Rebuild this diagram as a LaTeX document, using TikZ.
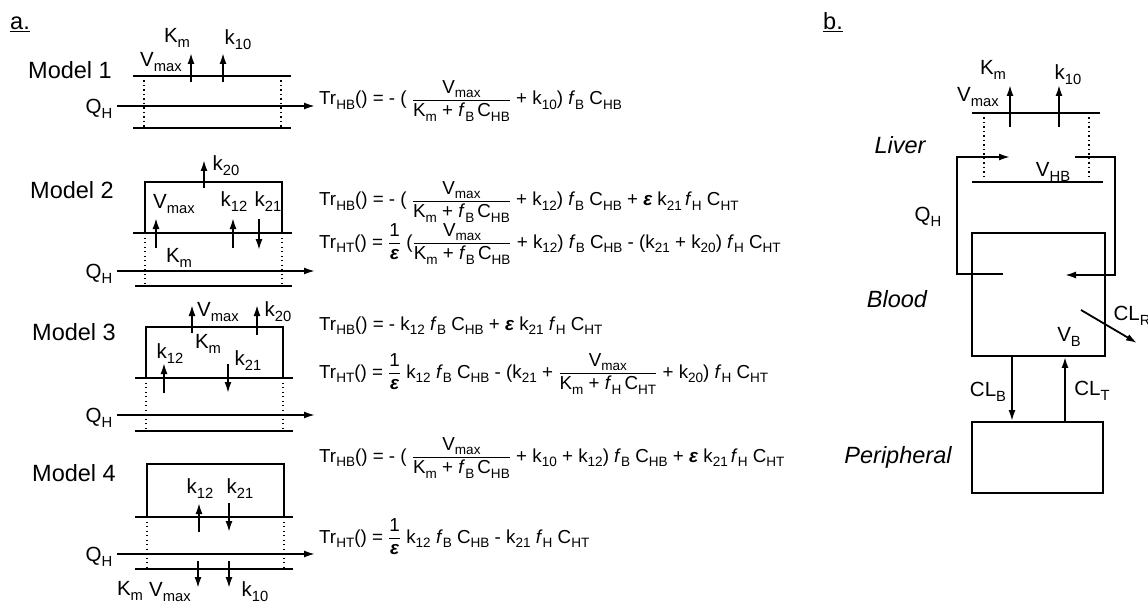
\documentclass[tikz,border=0pt]{standalone}
\usepackage{fontspec}
\setmainfont{Liberation Sans}
\usetikzlibrary{arrows.meta}
\newcommand\sub[1]{\raisebox{-0.45ex}{\fontsize{\the\dimexpr 0.72\fontdimen6\font\relax}{0pt}\selectfont #1}}
\newcommand\fB{\textit{f}\sub{B}}
\newcommand\fH{\textit{f}\sub{H}}
\newcommand\eps{{\bfseries\itshape ε}}
\newcommand\fr[2]{$\displaystyle\frac{\hbox{#1}}{\hbox{#2}}$}
\begin{document}
\begin{tikzpicture}[x=1pt,y=-1pt,
  ln/.style={line width=1.9pt},
  dl/.style={line width=1.7pt, dash pattern=on 1.3pt off 3.2pt},
  ar/.style={line width=1.8pt,-{Latex[length=11pt,width=7pt]}},
  lbl/.style={inner sep=0pt, font=\fontsize{20.5}{22}\selectfont},
  eq/.style={inner sep=0pt, anchor=base west, font=\fontsize{18.8}{22}\selectfont},
  big/.style={inner sep=0pt, font=\fontsize{23.5}{26}\selectfont},
  ital/.style={inner sep=0pt, font=\fontsize{23.5}{26}\selectfont\itshape},
  box/.style={draw, line width=1.9pt, inner sep=0pt},
]
\useasboundingbox (0,0) rectangle (1148,604);
% titles
\node[big,anchor=base west] (ta) at (10,30) {\underline{a.}};
\node[big,anchor=base west] (tb) at (823,30) {\underline{b.}};
% ---------------- Model 1
\node[big] (m1) at (70,70) {Model 1};
\draw[ln] (133,76) -- (291,76);
\draw[ln] (133,128) -- (291,128);
\draw[dl] (144,76) -- (144,128);
\draw[dl] (281,76) -- (281,128);
\node[lbl] (q1) at (99,109) {Q\sub{H}};
\draw[ar] (117,106) -- (315,106);
\draw[ar] (191,82) -- (191,53);
\draw[ar] (223,82) -- (223,53);
\node[lbl] (v1) at (161,62) {V\sub{max}};
\node[lbl] (km1) at (177,38) {K\sub{m}};
\node[lbl] (k101) at (238,40) {k\sub{10}};
\node[eq] (e1) at (319,105) {Tr\sub{HB}() = - ( \fr{V\sub{max}}{K\sub{m} + \fB\,C\sub{HB}} + k\sub{10}) \fB\ C\sub{HB}};
% ---------------- Model 2
\node[big] (m2) at (72,190) {Model 2};
\draw[ln] (145,233) -- (145,182) -- (282,182) -- (282,233);
\draw[ln] (133,233) -- (292,233);
\draw[ln] (135,286) -- (292,286);
\draw[dl] (145,233) -- (145,286);
\draw[dl] (282,233) -- (282,286);
\node[lbl] (q2) at (99,274) {Q\sub{H}};
\draw[ar] (117,271) -- (315,271);
\draw[ar] (204,188) -- (204,160);
\node[lbl] (k202) at (226,166) {k\sub{20}};
\node[lbl] (v2) at (174,204) {V\sub{max}};
\draw[ar] (156,248) -- (156,218);
\node[lbl] (km2) at (179,258) {K\sub{m}};
\node[lbl] (k122) at (234,202) {k\sub{12}};
\draw[ar] (233,248) -- (233,218);
\node[lbl] (k212) at (268,202) {k\sub{21}};
\draw[ar] (259,219) -- (259,250);
\node[eq] (e2a) at (319,206) {Tr\sub{HB}() = - ( \fr{V\sub{max}}{K\sub{m} + \fB\,C\sub{HB}} + k\sub{12}) \fB\ C\sub{HB} + \eps\ k\sub{21}\,\fH\ C\sub{HT}};
\node[eq] (e2b) at (319,248) {Tr\sub{HT}() = \fr{1}{\eps} (\fr{V\sub{max}}{K\sub{m} + \fB\,C\sub{HB}} + k\sub{12}) \fB\ C\sub{HB} - (k\sub{21} + k\sub{20}) \fH\ C\sub{HT}};
% ---------------- Model 3
\node[big] (m3) at (74,332) {Model 3};
\draw[ln] (146,378) -- (146,327) -- (283,327) -- (283,378);
\draw[ln] (135,378) -- (293,378);
\draw[ln] (135,431) -- (293,431);
\draw[dl] (146,378) -- (146,431);
\draw[dl] (283,378) -- (283,431);
\node[lbl] (q3) at (99,418) {Q\sub{H}};
\draw[ar] (117,415) -- (315,415);
\draw[ar] (192,333) -- (192,305);
\node[lbl] (v3) at (218,312) {V\sub{max}};
\node[lbl] (km3) at (208,344) {K\sub{m}};
\draw[ar] (257,335) -- (257,305);
\node[lbl] (k203) at (278,312) {k\sub{20}};
\node[lbl] (k123) at (170,354) {k\sub{12}};
\draw[ar] (164,393) -- (164,363);
\node[lbl] (k213) at (248,361) {k\sub{21}};
\draw[ar] (228,364) -- (228,393);
\node[eq] (e3a) at (319,330) {Tr\sub{HB}() = - k\sub{12} \fB\ C\sub{HB} + \eps\ k\sub{21} \fH\ C\sub{HT}};
\node[eq] (e3b) at (319,378) {Tr\sub{HT}() = \fr{1}{\eps}\ k\sub{12} \fB\ C\sub{HB} - (k\sub{21} + \fr{V\sub{max}}{K\sub{m} + \fH\,C\sub{HT}} + k\sub{20}) \fH\ C\sub{HT}};
% ---------------- Model 4
\node[big] (m4) at (74,473) {Model 4};
\draw[ln] (147,517) -- (147,464) -- (284,464) -- (284,517);
\draw[ln] (135,517) -- (293,517);
\draw[ln] (135,569) -- (293,569);
\draw[dl] (147,517) -- (147,569);
\draw[dl] (284,517) -- (284,569);
\node[lbl] (q4) at (99,557) {Q\sub{H}};
\draw[ar] (117,554) -- (315,554);
\node[lbl] (k124) at (200,489) {k\sub{12}};
\node[lbl] (k214) at (240,489) {k\sub{21}};
\draw[ar] (199,532) -- (199,503);
\draw[ar] (229,503) -- (229,532);
\draw[ar] (198,561) -- (198,588);
\draw[ar] (229,561) -- (229,588);
\node[lbl] (km4) at (130,591) {K\sub{m}};
\node[lbl] (v4) at (170,592) {V\sub{max}};
\node[lbl] (k104) at (255,592) {k\sub{10}};
\node[eq] (e4a) at (319,462) {Tr\sub{HB}() = - ( \fr{V\sub{max}}{K\sub{m} + \fB\,C\sub{HB}} + k\sub{10} + k\sub{12}) \fB\ C\sub{HB} + \eps\ k\sub{21}\,\fH\ C\sub{HT}};
\node[eq] (e4b) at (319,543) {Tr\sub{HT}() = \fr{1}{\eps}\ k\sub{12} \fB\ C\sub{HB} - k\sub{21} \fH\ C\sub{HT}};
% ---------------- Panel b
\draw[ln] (972,113) -- (1100,113);
\draw[dl] (984,113) -- (984,178);
\draw[dl] (1089,113) -- (1089,178);
\draw[ar] (1010,127) -- (1010,85);
\draw[ar] (1059,127) -- (1059,85);
\node[lbl] (kmb) at (993,70) {K\sub{m}};
\node[lbl] (k10b) at (1068,75) {k\sub{10}};
\node[lbl] (vb) at (978,97) {V\sub{max}};
\node[ital] (liver) at (900,145) {Liver};
\node[lbl] (vhb) at (1053,172) {V\sub{HB}};
\draw[ln] (972,182) -- (1103,182);
\node[lbl] (qhb) at (928,217) {Q\sub{H}};
\node[box, minimum width=133pt, minimum height=123pt] (blood) at (1038.5,294.5) {};
\node[box, minimum width=131pt, minimum height=71pt] (peri) at (1037.5,457.5) {};
\draw[ar] (1003,274) -- (957,274) -- (957,157) -- (1010,157);
\draw[ar] (1075,157) -- (1115,157) -- (1115,275) -- (1065,275);
\node[ital] (bl) at (897,299) {Blood};
\node[lbl] (vbl) at (1069,337) {V\sub{B}};
\draw[ar] (1081,310) -- (1137,343);
\node[lbl] (clr) at (1132,316) {CL\sub{R}};
\draw[ar] (blood.south -| 1012,0) -- (peri.north -| 1012,0);
\draw[ar] (peri.north -| 1065,0) -- (blood.south -| 1065,0);
\node[lbl] (clb) at (988,392) {CL\sub{B}};
\node[lbl] (clt) at (1092,391) {CL\sub{T}};
\node[ital] (per) at (898,457) {Peripheral};
\end{tikzpicture}
\end{document}
